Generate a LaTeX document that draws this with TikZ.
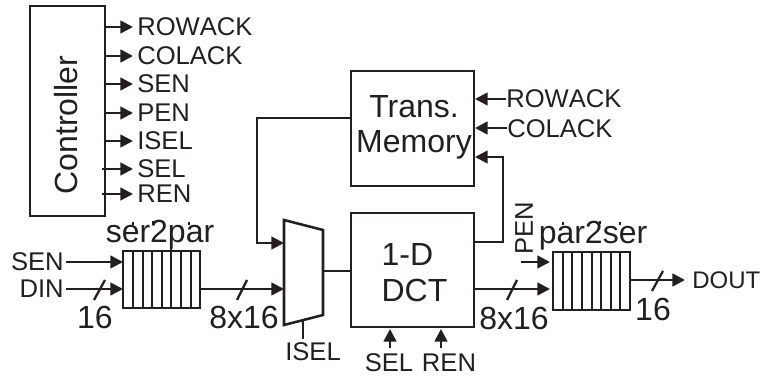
\documentclass[tikz,border=0pt]{standalone}
\usepackage{fontspec}
\setmainfont{Liberation Sans}
\newfontfamily\nokern[Kerning=Off]{Liberation Sans}
\usetikzlibrary{arrows.meta}
\definecolor{ink}{HTML}{231F20}
\tikzset{
  x=0.75pt,y=-0.75pt,
  line/.style={draw=ink,line width=1.9pt},
  arr/.style={line,-{Triangle[length=9.5pt,width=9.5pt]}},
  box/.style={draw=ink,line width=2pt,inner sep=0pt},
  small/.style={text=ink,font=\nokern\fontsize{19.2}{20}\selectfont,inner sep=0pt},
  big/.style={text=ink,font=\fontsize{24}{24}\selectfont,inner sep=0pt,align=center},
  slash/.style={draw=ink,line width=1.7pt},
  cell/.style={draw=ink,line width=1.6pt},
}
\begin{document}
\begin{tikzpicture}
\useasboundingbox (0,0) rectangle (764,377);
% blocks
\node[box,minimum width=56.25pt,minimum height=157.5pt] (ctl) at (67.5,111) {};
\node[big,rotate=90] (ctltext) at (66,125) {Controller};
\node[box,minimum width=92.25pt,minimum height=86.25pt] (mem) at (412.5,128.5) {};
\node[big] (memtext) at (414,127) {Trans.\\[2pt]Memory};
\node[box,minimum width=92.25pt,minimum height=85.5pt] (dct) at (412.5,270) {};
\node[big,align=left] (dcttext) at (414.5,273) {1-D\\[3pt]DCT};
\coordinate (m1) at (284,220);\coordinate (m2) at (323,230);\coordinate (m3) at (323,315);\coordinate (m4) at (284,325);
\draw[line,line join=miter] (m1)--(m2)--(m3)--(m4)--cycle;
% registers
\node[box,minimum width=57.75pt,minimum height=42.75pt] (sp) at (161.5,279.5) {};
\foreach \x in {133,143,152,162,171,181,191} \draw[cell] (\x,251)--(\x,308);
\node[box,minimum width=57.75pt,minimum height=43.5pt] (ps) at (591.5,281) {};
\foreach \x in {563,572,582,592,601,611,620} \draw[cell] (\x,252)--(\x,310);
\draw[cell] (171,225)--(171,251);
\foreach \x/\y in {133/222,153/221,189/222} \draw[cell,line width=1.2pt] (\x,\y)--(\x,\y+3);
\foreach \x/\y in {563/222,600/221,620/222} \draw[cell,line width=1.2pt] (\x,\y)--(\x,\y+3);
\node[big] (sptext) at (160,235) {ser2par};
\node[big] (pstext) at (593,236) {par2ser};
% controller outputs
\foreach \y/\t/\s in {27/ROWACK/105,56/COLACK/105,84/SEN/105,113/PEN/105,141/ISEL/105,169/SEL/102,194/REN/102}{
  \node[small,anchor=west] (o\t) at (137,\y) {\t};
  \coordinate (s\t) at (\s,\y);
  \coordinate (t\t) at (133,\y);
  \draw[arr] (s\t) -- (t\t);
}
% memory inputs
\node[small,anchor=west] (mrow) at (506,99) {ROWACK};
\node[small,anchor=west] (mcol) at (507,129) {COLACK};
\coordinate (a1) at (475,99);\coordinate (a2) at (475,128);\coordinate (a3) at (475,157);
\draw[arr] (mrow.west) -- (a1);
\draw[arr] (mcol.west |- a2) -- (a2);
\coordinate (b1) at (474,242);\coordinate (b2) at (503,242);\coordinate (b3) at (503,157);
\draw[arr] (b1)--(b2)--(b3)--(a3);
% mem to mux
\coordinate (c1) at (351,118);\coordinate (c2) at (257,118);\coordinate (c3) at (257,243);\coordinate (c4) at (284,243);
\draw[arr] (c1)--(c2)--(c3)--(c4);
\coordinate (d1) at (323,271);\coordinate (d2) at (351,271);
\draw[line] (d1)--(d2);
% inputs
\node[small,anchor=east] (sen) at (64,262) {SEN};
\node[small,anchor=east] (din) at (64,289) {DIN};
\coordinate (e1) at (123,262);\coordinate (e2) at (123,289);
\draw[arr] (sen.east)++(2,0) -- (e1);
\draw[arr] (din.east)++(2,0) -- (e2);
\coordinate (s1a) at (94,300);\coordinate (s1b) at (105,280);
\draw[slash] (s1a)--(s1b);
\node[big] (l16a) at (95,317) {16};
\coordinate (f1) at (200,289);\coordinate (f2) at (284,289);
\draw[arr] (f1)--(f2);
\coordinate (s2a) at (237,300);\coordinate (s2b) at (247,280);
\draw[slash] (s2a)--(s2b);
\node[big] (l816a) at (244,317) {8x16};
% ISEL
\coordinate (g1) at (303,319);\coordinate (g2) at (303,339);
\draw[line] (g1)--(g2);
\node[small] (isel) at (313,352) {ISEL};
% DCT out
\coordinate (h1) at (474,289);\coordinate (h2) at (550,289);
\draw[arr] (h1)--(h2);
\coordinate (s3a) at (507,300);\coordinate (s3b) at (517,280);
\draw[slash] (s3a)--(s3b);
\node[big] (l816b) at (514,318) {8x16};
% PEN
\coordinate (p1) at (521,262);\coordinate (p2) at (550,262);
\draw[arr] (p1)--(p2);
\node[small,rotate=90] (pen) at (524,228) {PEN};
% DOUT
\node[small,anchor=west,font=\nokern\fontsize{18}{20}\selectfont] (dout) at (692,280) {DOUT};
\coordinate (q1) at (630,280);
\coordinate (q2) at (685,280);
\draw[arr] (q1)--(q2);
\coordinate (s4a) at (652,291);\coordinate (s4b) at (663,271);
\draw[slash] (s4a)--(s4b);
\node[big] (l16b) at (653,309) {16};
% SEL REN
\node[small] (sel) at (389,363) {SEL};
\node[small] (ren) at (449,363) {REN};
\coordinate (r1) at (390,348);\coordinate (r2) at (390,329);
\coordinate (r3) at (441,348);\coordinate (r4) at (441,329);
\draw[arr] (r1)--(r2);
\draw[arr] (r3)--(r4);
\end{tikzpicture}
\end{document}
